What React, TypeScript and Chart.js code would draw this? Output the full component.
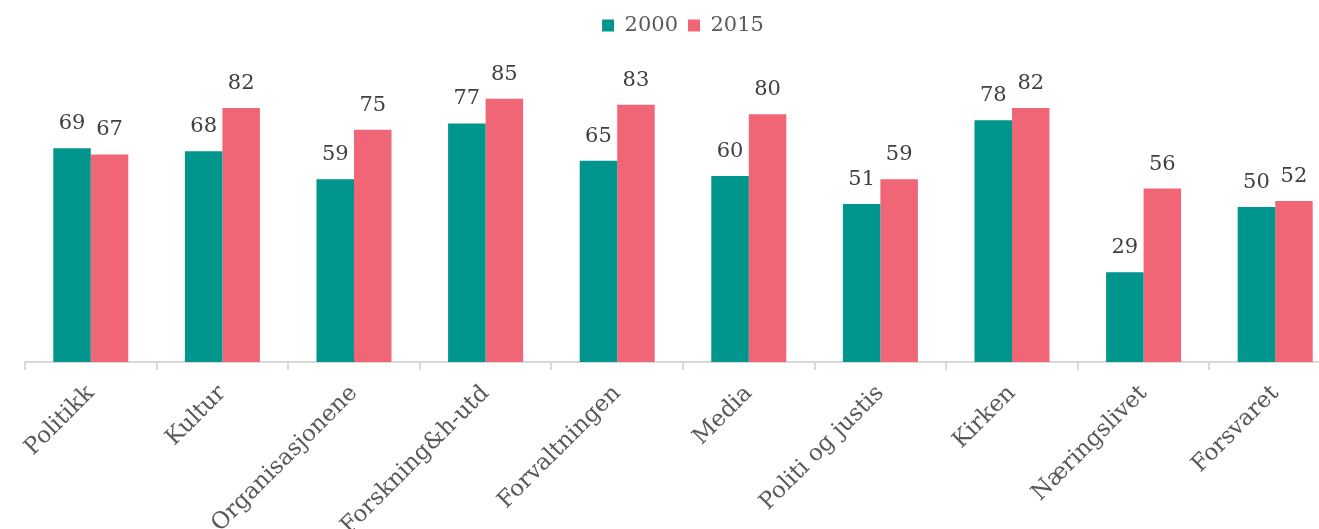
import React, { useEffect, useRef } from "react";
import { Chart, registerables } from "chart.js";

Chart.register(...registerables);

const categories = [
  "Politikk",
  "Kultur",
  "Organisasjonene",
  "Forskning&h-utd",
  "Forvaltningen",
  "Media",
  "Politi og justis",
  "Kirken",
  "Næringslivet",
  "Forsvaret",
];
const series2000 = [69, 68, 59, 77, 65, 60, 51, 78, 29, 50];
const series2015 = [67, 82, 75, 85, 83, 80, 59, 82, 56, 52];
const seriesNames = ["2000", "2015"];

const FONT = "'DejaVu Serif', serif";
const TEAL = "#00958D";
const PINK = "#F16676";

const valueLabels = {
  id: "valueLabels",
  afterDatasetsDraw(chart: any) {
    const ctx = chart.ctx;
    ctx.save();
    ctx.font = `21px ${FONT}`;
    ctx.fillStyle = "#404040";
    ctx.textAlign = "center";
    ctx.textBaseline = "alphabetic";
    chart.data.datasets.forEach((ds: any, i: number) => {
      const meta = chart.getDatasetMeta(i);
      meta.data.forEach((bar: any, j: number) => {
        ctx.fillText(String(ds.data[j]), bar.x, bar.y - 19);
      });
    });
    ctx.restore();
  },
};

export default function App() {
  const ref = useRef<HTMLCanvasElement>(null);
  useEffect(() => {
    if (!ref.current) return;
    const chart = new Chart(ref.current, {
      type: "bar",
      data: {
        labels: categories,
        datasets: [
          {
            label: seriesNames[0],
            data: series2000,
            backgroundColor: TEAL,
            categoryPercentage: 0.57,
            barPercentage: 1.0,
          },
          {
            label: seriesNames[1],
            data: series2015,
            backgroundColor: PINK,
            categoryPercentage: 0.57,
            barPercentage: 1.0,
          },
        ],
      },
      options: {
        animation: false,
        responsive: false,
        maintainAspectRatio: false,
        layout: { padding: { left: 25, right: 4, top: 5, bottom: 0 } },
        plugins: {
          legend: {
            position: "top",
            labels: {
              boxWidth: 12,
              boxHeight: 12,
              color: "#595959",
              font: { family: FONT, size: 21 },
              padding: 10,
            },
          },
          tooltip: { enabled: false },
        },
        scales: {
          x: {
            grid: {
              display: true,
              drawOnChartArea: false,
              drawTicks: true,
              tickLength: 8,
              color: "#d9d9d9",
              lineWidth: 2,
            },
            border: { display: true, color: "#d9d9d9", width: 2 },
            ticks: {
              color: "#595959",
              font: { family: FONT, size: 23 },
              maxRotation: 45,
              minRotation: 45,
              autoSkip: false,
              padding: 10,
            },
            afterFit: (scale: any) => {
              scale.height = 167;
              scale.paddingLeft = 0;
              scale.paddingRight = 0;
            },
          },
          y: {
            display: false,
            min: 0,
            max: 102,
          },
        },
      },
      plugins: [valueLabels],
    });
    return () => chart.destroy();
  }, []);
  return (
    <div
      style={{
        position: "fixed",
        left: 0,
        top: 0,
        width: 1319,
        height: 529,
        overflow: "hidden",
        background: "#fff",
      }}
    >
      <canvas ref={ref} width={1345} height={529} style={{ display: "block" }} />
    </div>
  );
}
